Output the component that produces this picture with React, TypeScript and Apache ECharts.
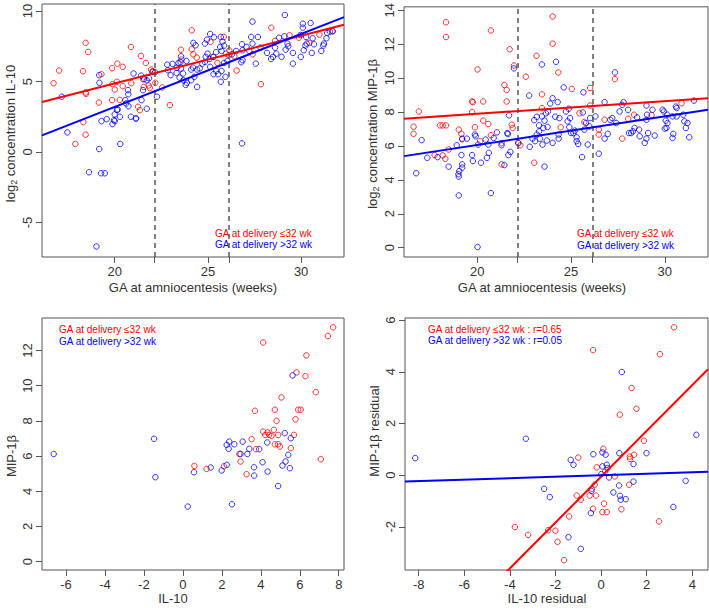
import React, { useEffect, useRef } from "react";
import * as echarts from "echarts";

const FONT = '"Liberation Sans", Arial, Helvetica, sans-serif';
const RED = "#ff0000";
const BLUE = "#0000ff";
const GRAY = "#555555";
const TEXT = "#333333";

// ---------- Panel A: IL-10 vs GA at amniocentesis ----------
const il10Red: number[][] = [
  [16.72, 4.88], [17.02, 5.78], [18.44, 7.74], [18.58, 7.1], [18.3, 5.73], [18.44, 4.22], [18.46, 4.13],
  [18.32, 2.12], [18.44, 1.23], [17.89, 0.57], [19.15, 3.51], [19.29, 5.52], [19.86, 5.94], [20.14, 6.27],
  [20.43, 6.04], [19.88, 4.81], [20.0, 4.43], [20.12, 4.98], [20.27, 3.7], [19.86, 3.68], [20.87, 7.45],
  [20.89, 4.88], [20.43, 4.67], [21.41, 6.82], [21.67, 6.32], [21.25, 3.21], [21.35, 2.97], [21.52, 5.17],
  [21.56, 4.62], [21.82, 4.72], [21.88, 4.55], [21.95, 5.85], [22.04, 5.73], [22.18, 4.91], [22.55, 4.58],
  [22.96, 3.33], [23.55, 7.26], [23.58, 6.56], [24.13, 8.63], [24.13, 7.29], [24.4, 6.7], [25.14, 7.81],
  [25.27, 6.75], [25.51, 6.32], [25.85, 8.16], [25.98, 6.98], [26.15, 7.21], [26.54, 5.78], [27.84, 4.81],
  [28.4, 8.82], [28.6, 7.88], [29.38, 8.28], [29.88, 8.11], [30.98, 8.33], [30.44, 7.74], [31.7, 8.56],
  [27.4, 6.93], [26.42, 6.79], [26.12, 6.86], [24.22, 6.93],
];
const il10Blue: number[][] = [
  [17.16, 3.92], [17.46, 1.39], [19.17, 5.45], [19.18, 4.91], [19.17, 0.21], [18.62, -1.44], [19.27, -1.51],
  [19.47, -1.51], [19.02, -6.7], [19.29, 2.19], [19.57, 2.33], [19.88, 1.98], [20.0, 2.19], [20.12, 2.97],
  [20.3, 0.57], [20.0, 2.67], [20.71, 4.39], [20.73, 4.1], [20.57, 3.68], [20.62, 3.44], [20.74, 3.25],
  [20.87, 2.5], [21.15, 2.38], [21.01, 5.57], [21.44, 3.68], [21.52, 4.39], [21.72, 3.07], [21.72, 5.09],
  [21.84, 5.24], [21.42, 5.42], [22.02, 5.68], [22.27, 3.92], [22.82, 6.2], [23.1, 6.25], [23.42, 6.32],
  [23.56, 6.79], [23.85, 6.46], [23.55, 5.92], [23.32, 5.61], [23.48, 5.28], [23.69, 5.09], [23.87, 4.91],
  [24.1, 5.09], [24.27, 5.33], [23.67, 5.57], [23.0, 5.45], [22.85, 5.8], [23.33, 5.97], [23.53, 6.37],
  [23.81, 4.76], [24.22, 7.74], [24.34, 7.57], [25.12, 8.37], [25.32, 8.14], [24.95, 7.97], [24.84, 7.69],
  [25.69, 8.16], [25.78, 7.83], [25.87, 7.55], [25.66, 7.45], [25.73, 7.17], [25.44, 7.08], [25.3, 6.75],
  [25.09, 6.6], [24.98, 6.98], [24.88, 6.75], [24.84, 6.39], [24.7, 6.27], [24.56, 5.92], [24.42, 5.85],
  [24.2, 5.99], [24.1, 5.85], [25.12, 6.04], [25.44, 5.75], [25.73, 5.75], [25.55, 5.52], [25.3, 5.52],
  [25.69, 4.98], [25.94, 5.33], [25.87, 6.32], [26.05, 6.46], [24.42, 4.62], [26.29, 6.93], [26.51, 7.17],
  [26.83, 7.64], [26.86, 7.22], [26.79, 6.37], [26.86, 6.51], [27.07, 7.45], [27.22, 7.17], [27.39, 7.69],
  [27.32, 8.16], [27.68, 8.16], [27.39, 9.25], [27.82, 7.4], [28.17, 7.03], [28.39, 6.6], [28.49, 6.75],
  [28.6, 7.4], [28.67, 6.98], [28.81, 8.11], [28.95, 6.75], [29.1, 8.21], [29.13, 9.72], [29.17, 7.26],
  [29.27, 7.69], [29.31, 7.5], [29.56, 7.03], [29.56, 6.27], [29.96, 8.3], [29.98, 6.75], [30.09, 8.82],
  [30.09, 9.1], [30.27, 8.16], [30.51, 9.15], [30.57, 7.03], [30.62, 8.07], [30.69, 7.64], [31.08, 7.17],
  [31.19, 7.55], [31.22, 7.69], [31.36, 8.07], [31.4, 8.44], [31.54, 8.54], [31.68, 8.58], [30.3, 7.69],
  [30.23, 7.55], [30.14, 7.22], [27.57, 6.27], [26.83, 0.61], [20.28, 2.5], [20.16, 3.02], [21.13, 2.38],
  [22.16, 5.66], [21.58, 5.17], [19.96, 2.26],
];

// ---------- Panel B: MIP-1β vs GA at amniocentesis ----------
const mipRed: number[][] = [
  [16.61, 7.13], [16.61, 6.71], [16.89, 8.03], [18.34, 13.29], [18.34, 12.42], [18.02, 7.21], [18.16, 7.21],
  [18.34, 7.21], [17.73, 5.46], [18.16, 5.44], [18.3, 5.24], [18.48, 5.79], [19.02, 6.96], [19.16, 6.71],
  [19.2, 6.39], [19.73, 8.62], [19.77, 8.58], [19.73, 7.99], [19.88, 7.1], [20.02, 10.51], [20.16, 6.28],
  [20.32, 8.62], [20.32, 7.49], [20.59, 7.29], [20.73, 12.81], [20.73, 6.63], [21.3, 6.16], [21.3, 4.91],
  [21.45, 9.59], [21.57, 9.3], [21.57, 8.62], [21.73, 11.7], [21.84, 7.25], [21.89, 7.06], [21.96, 10.74],
  [22.2, 6.16], [22.3, 6.04], [22.59, 10.08], [23.04, 5.01], [23.16, 11.31], [23.45, 9.04], [23.45, 8.23],
  [24.02, 13.63], [24.02, 12.03], [24.32, 10.33], [24.45, 7.1], [25.04, 9.36], [25.45, 7.93], [25.71, 7.41],
  [26.02, 9.42], [26.02, 8.38], [26.48, 6.96], [26.48, 6.67], [26.79, 7.54], [27.34, 9.94], [27.73, 6.43],
  [28.05, 7.6], [28.36, 7.84], [29.29, 7.82], [30.89, 8.52],
];
const mipBlue: number[][] = [
  [16.75, 4.39], [17.04, 6.34], [17.34, 5.3], [17.89, 5.34], [18.48, 4.78], [18.91, 6.04], [19.0, 4.33],
  [19.02, 4.19], [19.05, 4.52], [19.2, 4.91], [19.2, 4.72], [19.16, 5.46], [19.02, 3.08], [19.2, 6.43],
  [19.45, 6.43], [19.73, 5.46], [19.88, 6.67], [19.92, 6.57], [20.05, 6.08], [20.02, 0.04], [20.2, 5.01],
  [20.45, 6.37], [20.52, 5.3], [20.59, 6.08], [20.62, 5.59], [20.73, 3.22], [20.88, 6.47], [21.05, 6.8],
  [21.3, 6.04], [21.45, 4.87], [21.61, 6.76], [21.63, 6.7], [21.66, 5.46], [21.77, 5.65], [21.7, 7.8],
  [21.96, 10.57], [22.18, 6.18], [22.77, 8.97], [22.8, 5.95], [22.95, 6.43], [23.04, 7.52], [23.18, 7.72],
  [23.3, 7.21], [23.3, 6.86], [23.45, 7.74], [23.52, 7.06], [23.59, 7.49], [23.66, 7.92], [23.75, 7.12],
  [23.09, 6.28], [23.18, 6.67], [23.34, 6.43], [23.48, 6.08], [23.45, 10.8], [23.59, 4.78], [23.71, 6.32],
  [23.77, 8.03], [23.89, 8.5], [24.02, 8.81], [24.16, 7.72], [24.29, 8.58], [24.38, 7.64], [24.02, 6.18],
  [24.2, 10.96], [24.34, 6.67], [24.34, 6.43], [24.61, 9.45], [24.73, 8.03], [24.82, 7.45], [24.91, 7.1],
  [24.88, 8.19], [24.95, 7.64], [25.0, 6.76], [25.13, 6.76], [25.2, 6.9], [25.3, 6.51], [25.3, 6.28],
  [25.38, 6.12], [25.63, 7.97], [25.66, 9.16], [25.59, 5.34], [25.71, 6.96], [25.8, 7.35], [25.89, 6.08],
  [25.98, 7.15], [26.02, 7.64], [26.3, 7.74], [26.48, 5.54], [26.79, 8.58], [26.79, 6.43], [26.96, 6.71],
  [27.09, 7.54], [27.2, 7.64], [27.34, 10.33], [27.41, 7.35], [27.59, 8.03], [27.73, 8.42], [27.8, 8.58],
  [28.04, 8.13], [28.09, 6.76], [28.21, 6.76], [28.3, 6.86], [28.39, 7.06], [28.52, 7.68], [28.63, 6.96],
  [28.66, 6.57], [28.93, 6.18], [29.02, 8.38], [29.05, 7.84], [29.02, 7.54], [29.02, 6.43], [29.11, 6.76],
  [29.34, 8.13], [29.46, 6.61], [29.88, 8.13], [29.95, 8.03], [30.0, 7.02], [30.05, 7.49], [30.14, 7.35],
  [30.13, 7.84], [30.09, 7.06], [30.41, 7.74], [30.45, 6.71], [30.41, 6.47], [30.59, 8.32], [30.63, 8.23],
  [30.63, 7.74], [30.98, 7.84], [31.04, 7.45], [31.12, 7.06], [31.21, 7.35], [31.3, 6.51], [31.55, 8.67],
  [19.77, 5.11],
];

// ---------- Panel C: MIP-1β vs IL-10 ----------
const pairRed: number[][] = [
  [0.59, 5.44], [1.22, 5.27], [2.11, 5.42], [2.9, 6.12], [2.96, 5.69], [3.27, 4.97], [3.53, 6.96], [3.7, 8.57],
  [3.75, 6.39], [4.12, 12.45], [4.12, 7.39], [4.23, 7.2], [4.35, 7.34], [4.43, 7.2], [4.55, 7.15], [4.67, 7.49],
  [4.72, 8.63], [4.72, 6.67], [4.81, 8.0], [4.89, 7.2], [4.89, 6.67], [4.98, 6.54], [5.06, 9.33], [5.54, 6.45],
  [5.7, 7.2], [5.78, 8.09], [5.83, 10.75], [5.92, 8.63], [6.05, 8.63], [6.29, 10.54], [6.34, 11.72],
  [6.82, 9.63], [7.08, 5.82], [7.44, 12.82], [7.71, 13.31],
];
const pairBlue: number[][] = [
  [-6.63, 6.12], [-1.48, 6.98], [-1.41, 4.8], [0.25, 3.13], [0.57, 5.08], [1.43, 5.35], [1.99, 5.18],
  [2.25, 5.5], [2.25, 6.64], [2.35, 6.41], [2.38, 6.82], [2.52, 3.26], [2.64, 6.67], [2.96, 6.12], [3.07, 6.82],
  [3.31, 6.12], [3.41, 6.41], [3.65, 5.36], [3.66, 4.89], [3.92, 6.39], [4.09, 5.65], [4.33, 6.77], [4.35, 5.12],
  [4.89, 4.3], [5.11, 5.46], [5.23, 7.3], [5.27, 5.69], [5.41, 6.07], [5.49, 5.31], [5.54, 7.01], [5.63, 10.58],
];

// ---------- Panel D: residuals ----------
const residRed: number[][] = [
  [-3.78, -2.01], [-3.2, -2.31], [-2.32, -2.13], [-2.0, -2.15], [-1.91, -2.58], [-1.62, -3.29], [-1.4, -1.6],
  [-1.07, -0.79], [-1.0, 0.68], [-0.89, -0.95], [-0.5, -0.79], [-0.41, -0.53], [-0.35, -1.3], [-0.35, 4.84],
  [-0.28, -0.37], [-0.22, -0.79], [-0.19, 0.3], [0.06, -1.43], [0.1, 1.02], [0.13, -1.1], [0.25, -1.43],
  [0.18, 0.14], [0.6, -0.05], [0.82, 2.34], [0.89, -1.32], [1.23, -0.37], [1.26, 0.72], [1.27, 0.63],
  [1.34, 3.37], [1.45, 0.79], [1.55, 2.57], [1.88, 1.33], [2.54, -1.79], [2.58, 4.68], [3.2, 5.72],
];
const residBlue: number[][] = [
  [-8.15, 0.66], [-3.3, 1.41], [-2.5, -0.53], [-2.25, -0.85], [-1.33, 0.59], [-1.21, 0.4], [-1.43, -2.4],
  [-0.89, -2.85], [-0.45, -1.47], [-0.42, -0.61], [-0.34, 0.81], [0.06, 0.88], [0.06, 0.34], [0.2, 0.79],
  [0.25, 0.4], [0.28, 0.27], [0.01, 0.04], [0.35, -0.09], [0.54, -0.67], [0.8, 0.85], [0.79, -0.4],
  [0.83, -0.8], [0.86, -0.95], [1.08, -0.93], [0.91, 3.99], [1.42, 0.43], [1.42, -0.25], [1.99, 0.85],
  [3.17, -1.23], [3.71, -0.22], [4.18, 1.56],
];

// Fitted lines: [intercept, slope]
const fitIl10Red = [-1.89, 0.338];
const fitIl10Blue = [-7.16, 0.518];
const fitMipRed = [6.4, 0.0748];
const fitMipBlue = [2.68, 0.1688];
const fitResidRed = [-0.06, 0.887];
const fitResidBlue = [0.0, 0.029];

// Axis ranges and ticks
const gaRange = [16.1, 32.3];
const gaTicks = [20, 22.14, 25, 26.14, 30];
const gaLabels = [20, 25, 30];
const gaCutoffs = [22.14, 26.14];
const il10Range = [-7.45, 10.5];
const il10Ticks = [-5, 0, 5, 10];
const mipRange = [-0.55, 14.2];
const mipTicks = [0, 2, 4, 6, 8, 10, 12, 14];
const pairXRange = [-7.23, 8.27];
const pairXTicks = [-6, -4, -2, 0, 2, 4, 6, 8];
const pairYRange = [-0.47, 13.84];
const pairYTicks = [0, 2, 4, 6, 8, 10, 12];
const residXRange = [-8.6, 4.69];
const residXTicks = [-8, -6, -4, -2, 0, 2, 4];
const residYRange = [-3.67, 6.08];
const residYTicks = [-2, 0, 2, 4, 6];

const legendLow = "GA at delivery \u226432 wk";
const legendHigh = "GA at delivery >32 wk";
const legendLowR = "GA at delivery \u226432 wk : r=0.65";
const legendHighR = "GA at delivery >32 wk : r=0.05";

function App() {
  const ref = useRef<HTMLDivElement>(null);
  useEffect(() => {
    if (!ref.current) return;
    const chart = echarts.init(ref.current, null, { renderer: "svg" });

    const grids = [
      { left: 42, top: 4, width: 302, height: 253 },
      { left: 404, top: 4, width: 304, height: 253 },
      { left: 42, top: 318, width: 302, height: 252 },
      { left: 405, top: 318, width: 303, height: 252 },
    ].map((g) => ({ ...g, show: true, borderColor: GRAY, borderWidth: 1, backgroundColor: "transparent" }));

    const nameStyle = (padding: number[]) => ({
      fontFamily: FONT,
      fontSize: 13,
      color: TEXT,
      padding,
      rich: {
        a: { fontFamily: FONT, fontSize: 13, color: TEXT, lineHeight: 16 },
        s: { fontFamily: FONT, fontSize: 9, color: TEXT, lineHeight: 9, verticalAlign: "bottom" },
      },
    });

    const mkX = (gi: number, range: number[], ticks: number[], labels: number[], name: string, gap: number, pad: number[]) => ({
      type: "value",
      gridIndex: gi,
      min: range[0],
      max: range[1],
      axisLine: { show: false, onZero: false },
      splitLine: { show: false },
      axisTick: { show: true, length: 6, lineStyle: { color: GRAY }, customValues: ticks },
      axisLabel: { customValues: labels, margin: 8, fontSize: 13, fontFamily: FONT, color: TEXT },
      name,
      nameLocation: "middle",
      nameGap: gap,
      nameTextStyle: nameStyle(pad),
    });
    const mkY = (gi: number, range: number[], ticks: number[], name: string, gap: number, pad: number[]) => ({
      type: "value",
      gridIndex: gi,
      min: range[0],
      max: range[1],
      axisLine: { show: false, onZero: false },
      splitLine: { show: false },
      axisTick: { show: true, length: 6, lineStyle: { color: GRAY }, customValues: ticks },
      axisLabel: { customValues: ticks, rotate: 90, margin: 8, fontSize: 13, fontFamily: FONT, color: TEXT },
      name,
      nameLocation: "middle",
      nameGap: gap,
      nameTextStyle: nameStyle(pad),
    });

    const scatter = (data: number[][], color: string, idx: number, extra: any = {}) => ({
      type: "scatter",
      xAxisIndex: idx,
      yAxisIndex: idx,
      data,
      symbol: "circle",
      symbolSize: 5.5,
      silent: true,
      itemStyle: { color: "rgba(0,0,0,0)", borderColor: color, borderWidth: 1 },
      ...extra,
    });
    const fitLine = (fit: number[], range: number[], color: string, idx: number) => ({
      type: "line",
      xAxisIndex: idx,
      yAxisIndex: idx,
      data: [
        [range[0], fit[0] + fit[1] * range[0]],
        [range[1], fit[0] + fit[1] * range[1]],
      ],
      showSymbol: false,
      symbol: "none",
      silent: true,
      clip: true,
      lineStyle: { color, width: 2 },
      z: 5,
    });
    const cutoffMark = {
      silent: true,
      symbol: ["none", "none"],
      label: { show: false },
      lineStyle: { color: GRAY, type: [5, 4], width: 1.5 },
      data: gaCutoffs.map((v) => ({ xAxis: v })),
    };

    const legendText = (left: number, top: number, text: string, color: string) => ({
      type: "text",
      left,
      top,
      silent: true,
      style: { text, fill: color, font: `10px ${FONT}` },
    });

    chart.setOption({
      animation: false,
      backgroundColor: "#ffffff",
      grid: grids,
      xAxis: [
        mkX(0, gaRange, gaTicks, gaLabels, "GA at amniocentesis (weeks)", 24, [0, 0, 0, 0]),
        mkX(1, gaRange, gaTicks, gaLabels, "GA at amniocentesis (weeks)", 24, [0, 28, 0, 0]),
        mkX(2, pairXRange, pairXTicks, pairXTicks, "IL-10", 22, [0, 40, 0, 0]),
        mkX(3, residXRange, residXTicks, residXTicks, "IL-10 residual", 22, [0, 19, 0, 0]),
      ],
      yAxis: [
        mkY(0, il10Range, il10Ticks, "{a|log}{s|2}{a| concentration IL-10}", 24, [0, 6, 0, 0]),
        mkY(1, mipRange, mipTicks, "{a|log}{s|2}{a| concentration MIP-1\u03b2}", 24, [0, 4, 0, 0]),
        mkY(2, pairYRange, pairYTicks, "MIP-1\u03b2", 24, [0, 24, 0, 0]),
        mkY(3, residYRange, residYTicks, "MIP-1\u03b2 residual", 24, [0, 0, 0, 26]),
      ],
      series: [
        scatter(il10Red, RED, 0, { markLine: cutoffMark }),
        scatter(il10Blue, BLUE, 0),
        fitLine(fitIl10Red, gaRange, RED, 0),
        fitLine(fitIl10Blue, gaRange, BLUE, 0),
        scatter(mipRed, RED, 1, { markLine: cutoffMark }),
        scatter(mipBlue, BLUE, 1),
        fitLine(fitMipRed, gaRange, RED, 1),
        fitLine(fitMipBlue, gaRange, BLUE, 1),
        scatter(pairRed, RED, 2),
        scatter(pairBlue, BLUE, 2),
        scatter(residRed, RED, 3),
        scatter(residBlue, BLUE, 3),
        fitLine(fitResidRed, residXRange, RED, 3),
        fitLine(fitResidBlue, residXRange, BLUE, 3),
      ],
      graphic: [
        legendText(215, 228, legendLow, RED),
        legendText(215, 239, legendHigh, BLUE),
        legendText(577, 228, legendLow, RED),
        legendText(577, 240, legendHigh, BLUE),
        legendText(59, 324, legendLow, RED),
        legendText(59, 336, legendHigh, BLUE),
        legendText(428, 324, legendLowR, RED),
        legendText(428, 335, legendHighR, BLUE),
      ],
    });
    return () => chart.dispose();
  }, []);
  return <div ref={ref} style={{ position: "fixed", left: 0, top: 0, width: 709, height: 611 }} />;
}

export default App;
